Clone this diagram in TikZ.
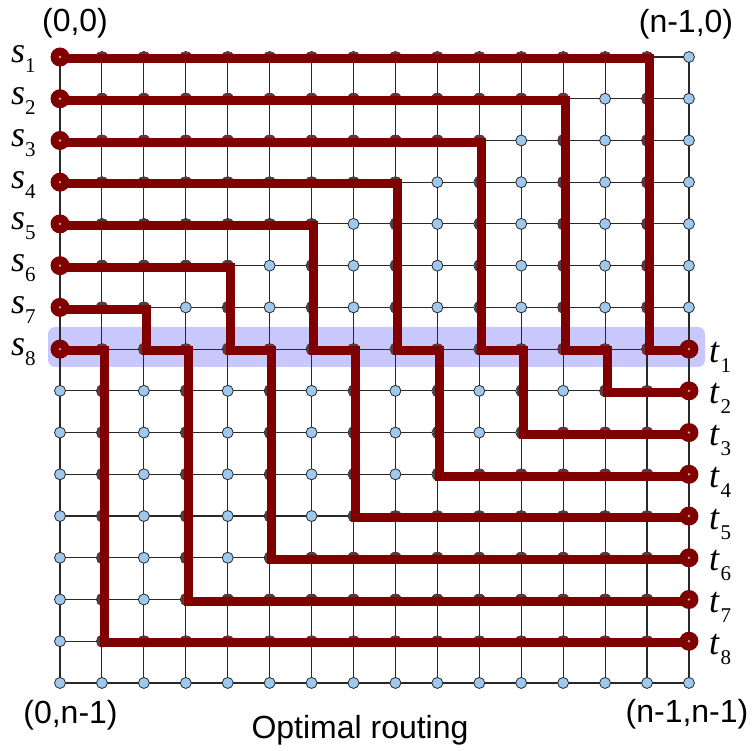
\documentclass[tikz,border=0pt]{standalone}
\usepackage{fontspec}
\setmainfont{Liberation Sans}
\newfontfamily\tnr{Liberation Serif}
\definecolor{route}{RGB}{128,0,0}
\definecolor{bump}{RGB}{95,55,62}
\definecolor{nodeblue}{RGB}{158,200,238}
\definecolor{bandc}{RGB}{200,200,252}
\definecolor{gridc}{RGB}{40,40,40}
\definecolor{dotc}{RGB}{235,160,150}
\newcommand\routepaths{%
 (q-0-0) -- (q-14-0) -- (q-14-7) -- (q-15-7)
 (q-0-1) -- (q-12-1) -- (q-12-7) -- (q-13-7) -- (q-13-8) -- (q-15-8)
 (q-0-2) -- (q-10-2) -- (q-10-7) -- (q-11-7) -- (q-11-9) -- (q-15-9)
 (q-0-3) -- (q-8-3) -- (q-8-7) -- (q-9-7) -- (q-9-10) -- (q-15-10)
 (q-0-4) -- (q-6-4) -- (q-6-7) -- (q-7-7) -- (q-7-11) -- (q-15-11)
 (q-0-5) -- (q-4-5) -- (q-4-7) -- (q-5-7) -- (q-5-12) -- (q-15-12)
 (q-0-6) -- (q-2-6) -- (q-2-7) -- (q-3-7) -- (q-3-13) -- (q-15-13)
 (q-0-7) -- (q-1-7) -- (q-1-14) -- (q-15-14)}
\begin{document}
\begin{tikzpicture}[x=1pt,y=-1pt,
  gridline/.style={draw=gridc,line width=1.1pt},
  gnode/.style={circle,draw=gridc,line width=0.8pt,fill=nodeblue,minimum size=11pt,inner sep=0pt},
  routeline/.style={draw=route,line width=9pt,line join=miter},
  bumpline/.style={draw=bump,line width=14pt,line join=miter},
  endpt/.style={circle,fill=route,minimum size=19pt,inner sep=0pt,
    path picture={\fill[dotc] (path picture bounding box.center) circle (1.3pt);}},
  corner/.style={font=\fontsize{32}{32}\selectfont,inner sep=0pt,anchor=base},
  lab/.style={font=\tnr\itshape\fontsize{36}{36}\selectfont,inner sep=0pt,anchor=base west}]
\useasboundingbox (0,0) rectangle (753,751);
\foreach \c in {0,...,15}{\foreach \r in {0,...,15}{
  \coordinate (p-\c-\r) at ({60+41.93*\c},{57+41.73*\r});
  \coordinate (q-\c-\r) at ({62.3+41.93*\c},{58.7+41.73*\r});
}}
% highlighted row
\fill[bandc,rounded corners=7pt] (48,327) rectangle (705,367);
% grid
\foreach \r in {0,...,15} \draw[gridline] (p-0-\r) -- (p-15-\r);
\foreach \c in {0,...,15} \draw[gridline] (p-\c-0) -- (p-\c-15);
\foreach \c in {0,...,15}{\foreach \r in {0,...,15}{\node[gnode] (g-\c-\r) at (p-\c-\r) {};}}
% covered nodes
\begin{scope}
\clip \foreach \c in {0,...,15}{\foreach \r in {0,...,15}{(p-\c-\r) circle (6.1pt)}};
\draw[bumpline] \routepaths;
\end{scope}
% routes
\draw[routeline] (q-0-0) -- (q-14-0) -- (q-14-7) -- (q-15-7)
  node[endpt] (s1) at (p-0-0) {} node[endpt] (t1) at (p-15-7) {};
\draw[routeline] (q-0-1) -- (q-12-1) -- (q-12-7) -- (q-13-7) -- (q-13-8) -- (q-15-8)
  node[endpt] (s2) at (p-0-1) {} node[endpt] (t2) at (p-15-8) {};
\draw[routeline] (q-0-2) -- (q-10-2) -- (q-10-7) -- (q-11-7) -- (q-11-9) -- (q-15-9)
  node[endpt] (s3) at (p-0-2) {} node[endpt] (t3) at (p-15-9) {};
\draw[routeline] (q-0-3) -- (q-8-3) -- (q-8-7) -- (q-9-7) -- (q-9-10) -- (q-15-10)
  node[endpt] (s4) at (p-0-3) {} node[endpt] (t4) at (p-15-10) {};
\draw[routeline] (q-0-4) -- (q-6-4) -- (q-6-7) -- (q-7-7) -- (q-7-11) -- (q-15-11)
  node[endpt] (s5) at (p-0-4) {} node[endpt] (t5) at (p-15-11) {};
\draw[routeline] (q-0-5) -- (q-4-5) -- (q-4-7) -- (q-5-7) -- (q-5-12) -- (q-15-12)
  node[endpt] (s6) at (p-0-5) {} node[endpt] (t6) at (p-15-12) {};
\draw[routeline] (q-0-6) -- (q-2-6) -- (q-2-7) -- (q-3-7) -- (q-3-13) -- (q-15-13)
  node[endpt] (s7) at (p-0-6) {} node[endpt] (t7) at (p-15-13) {};
\draw[routeline] (q-0-7) -- (q-1-7) -- (q-1-14) -- (q-15-14)
  node[endpt] (s8) at (p-0-7) {} node[endpt] (t8) at (p-15-14) {};
% labels
\foreach \i in {1,...,8}{
  \node[lab] (sl\i) at (11,{57+41.73*(\i-1)+6}) {s\raisebox{-10pt}{\upshape\fontsize{21}{21}\selectfont\i}};
  \node[lab] (tl\i) at (709,{57+41.73*(\i+6)+13}) {t\kern1.5pt\raisebox{-10pt}{\upshape\fontsize{21}{21}\selectfont\i}};
}
\node[corner] (c00) at (75,32) {(0,0)};
\node[corner] (cn0) at (686,33) {(n-1,0)};
\node[corner] (c0n) at (70.5,723) {(0,n-1)};
\node[corner] (cnn) at (687,722) {(n-1,n-1)};
\node[corner] (title) at (360,738) {Optimal routing};
\end{tikzpicture}
\end{document}
